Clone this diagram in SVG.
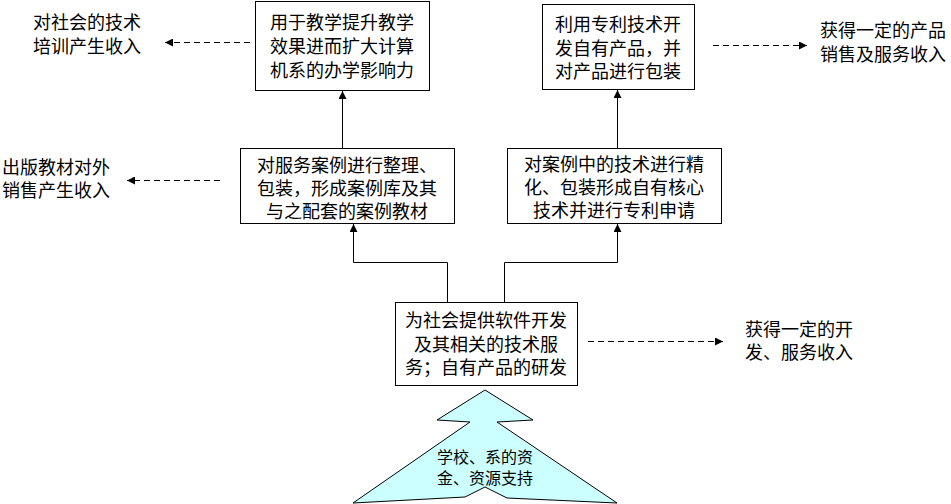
<svg xmlns="http://www.w3.org/2000/svg" width="951" height="504" viewBox="0 0 951 504">
<style>
text{font-family:"Liberation Sans","Noto Sans CJK SC","Noto Sans CJK JP",sans-serif;font-size:18px;fill:#000}
.c{text-anchor:middle}
.box{fill:#fff;stroke:#000;stroke-width:1}
.ln{fill:none;stroke:#000;stroke-width:1}
.ds{fill:none;stroke:#000;stroke-width:1;stroke-dasharray:6 4}
.sm{font-size:16px}
</style>
<defs>
<marker id="ah" viewBox="0 0 10 10" refX="10" refY="5" markerWidth="11" markerHeight="8" markerUnits="userSpaceOnUse" orient="auto">
<path d="M0,0 L10,5 L0,10 z" fill="#000"/>
</marker>
</defs>
<g id="connectors">
<line class="ln" x1="342.5" y1="148" x2="342.5" y2="91" marker-end="url(#ah)"/>
<line class="ln" x1="617.5" y1="148" x2="617.5" y2="90" marker-end="url(#ah)"/>
<polyline class="ln" points="447.5,302 447.5,262.5 353.5,262.5 353.5,224" marker-end="url(#ah)"/>
<polyline class="ln" points="504.5,302 504.5,262.5 617.5,262.5 617.5,224" marker-end="url(#ah)"/>
<line class="ds" x1="250" y1="42.5" x2="165" y2="42.5" marker-end="url(#ah)"/>
<line class="ds" x1="220" y1="180.5" x2="127" y2="180.5" marker-end="url(#ah)"/>
<line class="ds" x1="713" y1="45.5" x2="807" y2="45.5" marker-end="url(#ah)"/>
<line class="ds" x1="588" y1="341.5" x2="723" y2="341.5" marker-end="url(#ah)"/>
</g>
<g id="n1">
<rect class="box" x="255.5" y="1.5" width="174" height="89"/>
<text class="c" x="342" y="29">用于教学提升教学</text>
<text class="c" x="342" y="53">效果进而扩大计算</text>
<text class="c" x="342" y="77">机系的办学影响力</text>
</g>
<g id="n2">
<rect class="box" x="542.5" y="4.5" width="152" height="85"/>
<text class="c" x="618" y="31">利用专利技术开</text>
<text class="c" x="618" y="55">发自有产品，并</text>
<text class="c" x="618" y="78">对产品进行包装</text>
</g>
<g id="n3">
<rect class="box" x="240.5" y="148.5" width="214" height="75"/>
<text class="c" x="347" y="172">对服务案例进行整理、</text>
<text class="c" x="347" y="195">包装，形成案例库及其</text>
<text class="c" x="347" y="218">与之配套的案例教材</text>
</g>
<g id="n4">
<rect class="box" x="507.5" y="148.5" width="214" height="75"/>
<text class="c" x="614" y="171">对案例中的技术进行精</text>
<text class="c" x="614" y="194">化、包装形成自有核心</text>
<text class="c" x="614" y="217">技术并进行专利申请</text>
</g>
<g id="n5">
<rect class="box" x="395.5" y="302.5" width="182" height="83"/>
<text class="c" x="486" y="327">为社会提供软件开发</text>
<text class="c" x="486" y="351">及其相关的技术服</text>
<text class="c" x="486" y="374">务；自有产品的研发</text>
</g>
<g id="l1">
<text x="33" y="29">对社会的技术</text>
<text x="33" y="53">培训产生收入</text>
</g>
<g id="l2">
<text x="2" y="174">出版教材对外</text>
<text x="2" y="197">销售产生收入</text>
</g>
<g id="l3">
<text x="820" y="37">获得一定的产品</text>
<text x="820" y="61">销售及服务收入</text>
</g>
<g id="l4">
<text x="745" y="336">获得一定的开</text>
<text x="745" y="359">发、服务收入</text>
</g>
<g id="support">
<polygon points="353,503 470,422 437,420 485,390 533,420 497,422 617,503 507,498 485,487 465,497" fill="#ccffff" stroke="#000" stroke-width="1"/>
<text class="c sm" x="485" y="463">学校、系的资</text>
<text class="c sm" x="485" y="484">金、资源支持</text>
</g>
</svg>
